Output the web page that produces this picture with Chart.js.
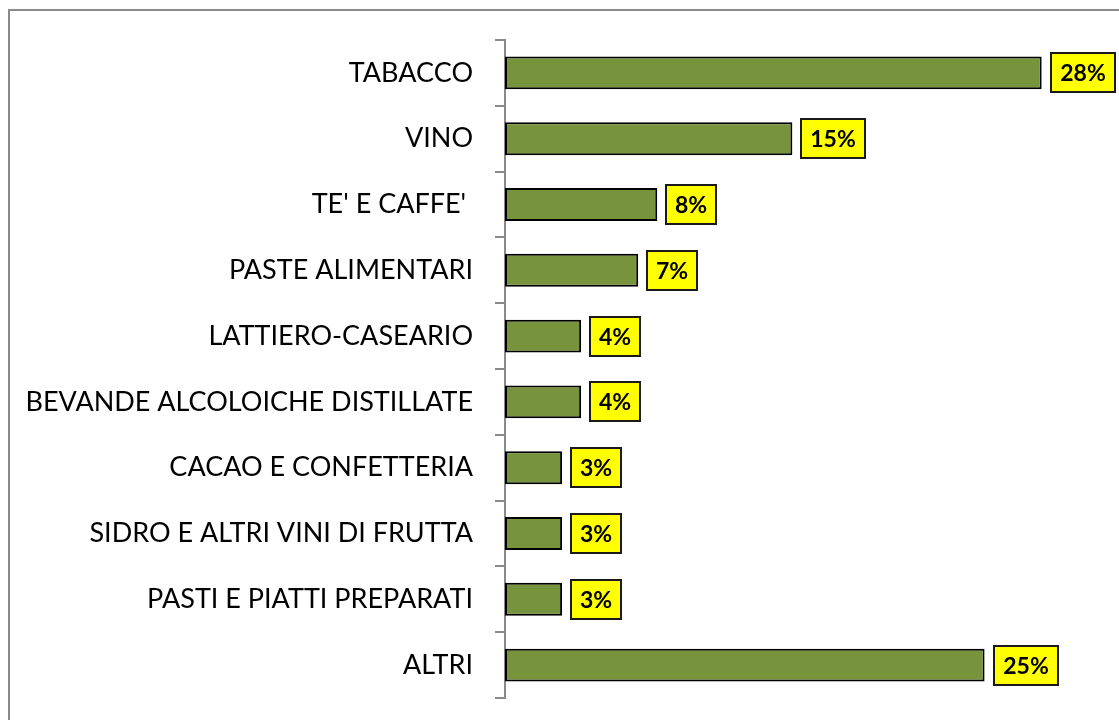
<!DOCTYPE html>
<html>
<head>
<meta charset="utf-8">
<script src="https://cdn.jsdelivr.net/npm/chart.js@4"></script>
<style>
  html, body { margin: 0; padding: 0; background: #fff; overflow: hidden; }
  #wrap { position: relative; width: 1119px; height: 720px; }
  #frame { position: absolute; left: 8px; top: 9px; width: 1300px; height: 900px; border: 2px solid #8a8a8a; box-sizing: border-box; }
  canvas { position: absolute; left: 0; top: 0; }
</style>
</head>
<body>
<div id="wrap">
  <div id="frame"></div>
  <canvas id="c" width="1119" height="720"></canvas>
</div>
<script>
const categories = [
  "TABACCO",
  "VINO",
  "TE' E CAFFE' ",
  "PASTE ALIMENTARI",
  "LATTIERO-CASEARIO",
  "BEVANDE ALCOLOICHE DISTILLATE",
  "CACAO E CONFETTERIA",
  "SIDRO E ALTRI VINI DI FRUTTA",
  "PASTI E PIATTI PREPARATI",
  "ALTRI"
];
const shares = [28.2, 15.1, 8.0, 7.0, 4.0, 4.0, 3.0, 3.0, 3.0, 25.2];
const shareLabels = ["28%", "15%", "8%", "7%", "4%", "4%", "3%", "3%", "3%", "25%"];

const boxLabels = {
  id: 'boxLabels',
  afterDatasetsDraw(chart) {
    const ctx = chart.ctx;
    const meta = chart.getDatasetMeta(0);
    ctx.save();
    ctx.font = "bold 23px Lato, 'Open Sans', sans-serif";
    ctx.textBaseline = 'middle';
    ctx.textAlign = 'left';
    meta.data.forEach((bar, i) => {
      const txt = shareLabels[i];
      const tw = ctx.measureText(txt).width;
      const w = Math.round(tw + 20);
      const h = 41;
      const x = Math.round(bar.x + 8);
      const y = Math.round(bar.y - h / 2);
      ctx.fillStyle = '#FFFF00';
      ctx.fillRect(x, y, w, h);
      ctx.lineWidth = 2;
      ctx.strokeStyle = '#1a1a1a';
      ctx.strokeRect(x + 1, y + 1, w - 2, h - 2);
      ctx.fillStyle = '#000';
      ctx.fillText(txt, x + (w - tw) / 2, bar.y + 1);
    });
    ctx.restore();
  }
};

new Chart(document.getElementById('c'), {
  type: 'bar',
  data: {
    labels: categories,
    datasets: [{
      data: shares,
      backgroundColor: '#77933C',
      borderColor: '#000000',
      borderWidth: 2,
      borderSkipped: false,
      barPercentage: 0.5,
      categoryPercentage: 1.0
    }]
  },
  options: {
    indexAxis: 'y',
    responsive: false,
    animation: false,
    devicePixelRatio: 1,
    layout: { padding: { top: 40, bottom: 22, left: 0, right: 5 } },
    plugins: { legend: { display: false }, tooltip: { enabled: false } },
    scales: {
      x: { display: false, min: 0, max: 32 },
      y: {
        afterFit(scale) { scale.width = 505; scale.paddingTop = 0; scale.paddingBottom = 0; },
        border: { display: true, color: '#8a8a8a', width: 2 },
        grid: { display: true, drawOnChartArea: false, drawTicks: true, tickLength: 10, color: '#8a8a8a', lineWidth: 2, offset: true },
        ticks: { color: '#000', padding: 22, font: { family: "Lato, 'Open Sans', sans-serif", size: 27 } }
      }
    }
  },
  plugins: [boxLabels]
});
</script>
</body>
</html>
